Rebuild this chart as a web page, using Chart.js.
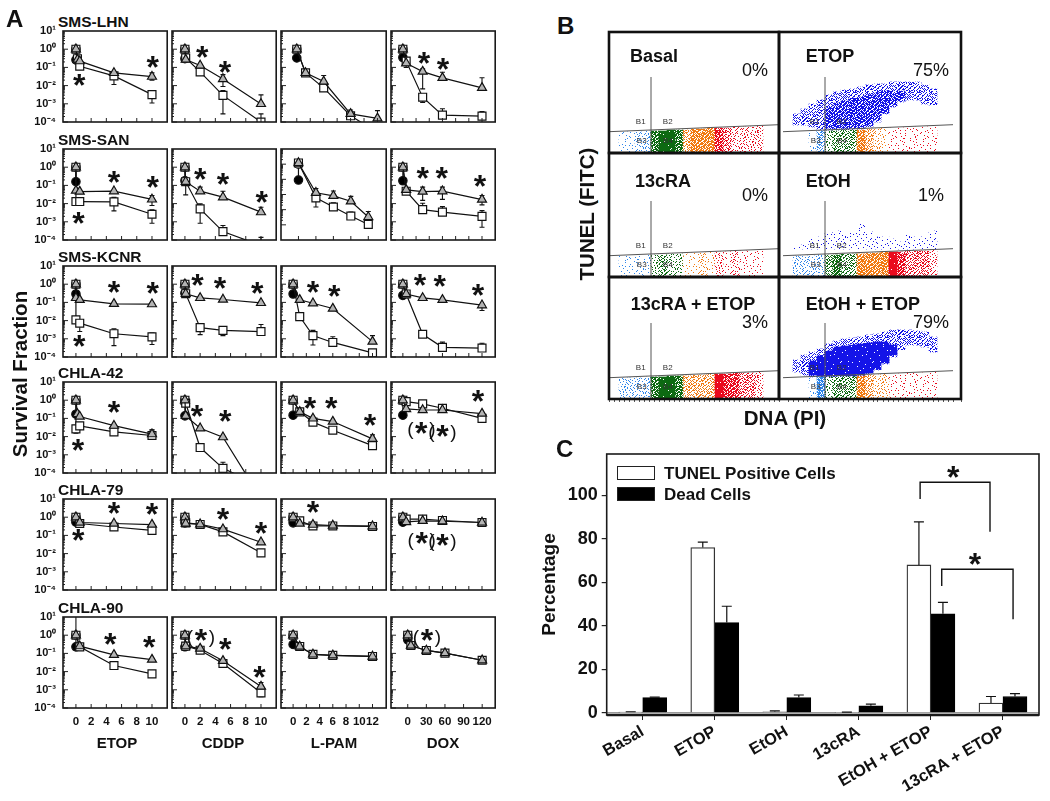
<!DOCTYPE html>
<html lang="en">
<head>
<meta charset="UTF-8">
<title>Survival, TUNEL and cell death</title>
<script src="https://cdn.jsdelivr.net/npm/chart.js"></script>
<style>
    body { margin: 0; background: #fff; }
    #page { position: relative; width: 1050px; height: 801px; overflow: hidden; font-family: "Liberation Sans", Arial, sans-serif; color: #111; }
    #page canvas { position: absolute; }
    .txt { position: absolute; white-space: nowrap; line-height: 1; }
    .swatch { position: absolute; box-sizing: border-box; border: 1.5px solid #222; }
</style>
</head>
<body>
<div id="page"></div>
<script>
// Panel A. Points are [dose, survival fraction, lower error, upper error]
const CELL_LINES = ['SMS-LHN', 'SMS-SAN', 'SMS-KCNR', 'CHLA-42', 'CHLA-79', 'CHLA-90'];
const DRUGS = ['ETOP', 'CDDP', 'L-PAM', 'DOX'];

const BLACK_POINT = [
    [0.26, 0.3, 0.33, 0.35],
    [0.16, 0.18, 0.09, 0.18],
    [0.29, 0.32, 0.29, 0.24],
    [0.17, 0.138, 0.15, 0.15],
    [0.53, 0.49, 0.49, 0.53],
    [0.23, 0.23, 0.31, 0.56]
];

const LHN_ETOP_SQ = [[0,1],[0.2,0.3],[0.5,0.116],[5,0.034,0.0114,0.056],[10,0.0032,0.0011,0.005]];
const LHN_ETOP_TRI = [[0,1],[0.2,0.27],[0.5,0.22],[5,0.05],[10,0.031,0.02,0.05]];
const LHN_CDDP_SQ = [[0,1],[0.1,0.33],[2,0.057],[5,0.0029,0.00028,0.0053],[10,0.0001,null,0.00028]];
const LHN_CDDP_TRI = [[0,1],[0.1,0.27],[2,0.127],[5,0.023,0.009,0.04],[10,0.00099,null,0.0031]];
const LHN_LPAM_SQ = [[0,1],[1.3,0.05],[4,0.0075],[8,0.00022],[12,0.000027]];
const LHN_LPAM_TRI = [[0,1],[1.3,0.05],[4,0.0168,null,0.036],[8,0.00028,null,0.00046],[12,0.00016,null,0.00042]];
const LHN_DOX_SQ = [[0,1],[5,0.22,0.1,null],[30,0.0023,0.0012,null],[60,0.00024,null,0.00053],[120,0.00021,null,0.00037]];
const LHN_DOX_TRI = [[0,1],[5,0.17],[30,0.059,0.0066,0.083],[60,0.0267,null,0.054],[120,0.0075,null,0.027]];

const SAN_ETOP_SQ = [[0,1],[0,0.013],[0.5,0.013],[5,0.0125,0.004,0.022],[10,0.0026,0.00084,0.0045]];
const SAN_ETOP_TRI = [[0,1],[0,0.052],[0.5,0.046],[5,0.048],[10,0.017,0.0078,0.028]];
const SAN_CDDP_SQ = [[0,1],[0.1,0.16],[2,0.0051,0.00084,0.0097],[5,0.00029,null,0.00063],[10,0.00005,null,0.00014]];
const SAN_CDDP_TRI = [[0,1],[0.1,0.16,0.03,null],[2,0.048,null,0.08],[5,0.0225,null,0.048],[10,0.0034,null,0.0063]];
const SAN_LPAM_SQ = [[0,1.2],[2,0.006,0.0015,0.01],[4,0.0015,null,0.0028],[6,0.00038,null,0.0007],[8,0.000106,null,0.0002]];
const SAN_LPAM_TRI = [[0,1.2],[2,0.013,null,0.025],[4,0.0082,null,0.017],[6,0.0036,null,0.0075],[8,0.00033,null,0.00075]];
const SAN_DOX_SQ = [[0,1],[5,0.048],[30,0.0047,null,0.0105],[60,0.0034,null,0.0068],[120,0.002,0.0005,0.0041]];
const SAN_DOX_TRI = [[0,1],[5,0.057],[30,0.046,0.015,0.08],[60,0.048,0.017,0.08],[120,0.0167,0.0085,0.028]];

const KCNR_ETOP_SQ = [[0,1],[0,0.011],[0.5,0.0072,0.0025,null],[5,0.0019,0.00042,0.0035],[10,0.00127,0.00049,0.0021]];
const KCNR_ETOP_TRI = [[0,1],[0,0.177],[0.5,0.138],[5,0.083],[10,0.08]];
const KCNR_CDDP_SQ = [[0,1],[0.1,0.3],[2,0.0041,0.0017,0.0065],[5,0.0029,0.0015,0.0044],[10,0.0025,null,0.0061]];
const KCNR_CDDP_TRI = [[0,1],[0.1,0.3],[2,0.177],[5,0.144],[10,0.094]];
const KCNR_LPAM_SQ = [[0,1],[1,0.0166],[3,0.0015,0.00046,0.0029],[6,0.00063,null,0.0013],[12,0.00017]];
const KCNR_LPAM_TRI = [[0,1],[1,0.138],[3,0.09],[6,0.046],[12,0.0007,null,0.0015]];
const KCNR_DOX_SQ = [[0,1],[5,0.29],[30,0.00178],[60,0.00034,null,0.00066],[120,0.00031,null,0.00057]];
const KCNR_DOX_TRI = [[0,1],[5,0.29],[30,0.177],[60,0.138],[120,0.07,0.036,null]];

const C42_ETOP_SQ = [[0,1],[0,0.0267,0.0154,null],[0.5,0.039],[5,0.018,0.012,0.028],[10,0.0115,null,0.023]];
const C42_ETOP_TRI = [[0,1],[0.2,0.177],[0.5,0.127],[5,0.04],[10,0.0136,null,0.0235]];
const C42_CDDP_SQ = [[0,1],[0.1,0.68],[2,0.0025],[5,0.00018,null,0.00039],[10,0.00002]];
const C42_CDDP_TRI = [[0,1],[0.1,0.138],[2,0.029],[5,0.0093],[10,0.000004]];
const C42_LPAM_SQ = [[0,1],[1,0.23],[3,0.062],[6,0.0225],[12,0.0032,0.002,null]];
const C42_LPAM_TRI = [[0,1],[1,0.23],[3,0.1],[6,0.067],[12,0.0075,null,0.0125]];
const C42_DOX_SQ = [[0,1],[5,0.84],[30,0.63],[60,0.36],[120,0.1]];
const C42_DOX_TRI = [[0,1],[5,0.33],[30,0.29],[60,0.29],[120,0.185]];

const C79_ETOP_SQ = [[0,1],[0.5,0.45],[5,0.29],[10,0.19]];
const C79_ETOP_TRI = [[0,1],[0.5,0.51],[5,0.45],[10,0.395]];
const C79_CDDP_SQ = [[0,1],[0.1,0.49],[2,0.4],[5,0.156],[10,0.011]];
const C79_CDDP_TRI = [[0,1],[0.1,0.45],[2,0.41],[5,0.22],[10,0.042]];
const C79_LPAM_SQ = [[0,1],[1,0.63],[3,0.33],[6,0.33],[12,0.31]];
const C79_LPAM_TRI = [[0,1],[1,0.45],[3,0.39],[6,0.35],[12,0.32]];
const C79_DOX_SQ = [[0,1],[5,0.78],[30,0.78],[60,0.66],[120,0.51]];
const C79_DOX_TRI = [[0,1],[5,0.55],[30,0.63],[60,0.6],[120,0.51]];

const C90_ETOP_SQ = [[0,1,null,20],[0.5,0.23],[5,0.0215],[10,0.0075]];
const C90_ETOP_TRI = [[0,1],[0.5,0.25],[5,0.083],[10,0.046]];
const C90_CDDP_SQ = [[0,1],[0.1,0.25],[2,0.15],[5,0.028],[10,0.00068,0.00042,null]];
const C90_CDDP_TRI = [[0,1],[0.1,0.25],[2,0.185],[5,0.039],[10,0.0015,null,0.0025]];
const C90_LPAM_SQ = [[0,1],[1,0.24],[3,0.088],[6,0.078],[12,0.068]];
const C90_LPAM_TRI = [[0,1],[1,0.24],[3,0.088],[6,0.078],[12,0.068]];
const C90_DOX_SQ = [[0,1],[5,0.27],[30,0.145],[60,0.104],[120,0.042]];
const C90_DOX_TRI = [[0,1],[5,0.27],[30,0.145],[60,0.104],[120,0.042]];

const SQUARES = [
    [LHN_ETOP_SQ, LHN_CDDP_SQ, LHN_LPAM_SQ, LHN_DOX_SQ],
    [SAN_ETOP_SQ, SAN_CDDP_SQ, SAN_LPAM_SQ, SAN_DOX_SQ],
    [KCNR_ETOP_SQ, KCNR_CDDP_SQ, KCNR_LPAM_SQ, KCNR_DOX_SQ],
    [C42_ETOP_SQ, C42_CDDP_SQ, C42_LPAM_SQ, C42_DOX_SQ],
    [C79_ETOP_SQ, C79_CDDP_SQ, C79_LPAM_SQ, C79_DOX_SQ],
    [C90_ETOP_SQ, C90_CDDP_SQ, C90_LPAM_SQ, C90_DOX_SQ]
];
const TRIANGLES = [
    [LHN_ETOP_TRI, LHN_CDDP_TRI, LHN_LPAM_TRI, LHN_DOX_TRI],
    [SAN_ETOP_TRI, SAN_CDDP_TRI, SAN_LPAM_TRI, SAN_DOX_TRI],
    [KCNR_ETOP_TRI, KCNR_CDDP_TRI, KCNR_LPAM_TRI, KCNR_DOX_TRI],
    [C42_ETOP_TRI, C42_CDDP_TRI, C42_LPAM_TRI, C42_DOX_TRI],
    [C79_ETOP_TRI, C79_CDDP_TRI, C79_LPAM_TRI, C79_DOX_TRI],
    [C90_ETOP_TRI, C90_CDDP_TRI, C90_LPAM_TRI, C90_DOX_TRI]
];

// significance marks: [dose, fraction, bracketed]
const STARS = [
    [[[10.1,0.156],[0.43,0.0167]], [[2.26,0.55],[5.26,0.09]], [], [[32,0.26],[61,0.127]]],
    [[[5,0.229],[10.1,0.12],[0.35,0.0013]], [[2,0.35],[5,0.185],[10.1,0.02]], [], [[30,0.38],[59,0.38],[117,0.15]]],
    [[[5,0.55],[10.1,0.51],[0.43,0.00063]], [[1.65,1.46],[4.6,1],[9.5,0.51]], [[3,0.55],[6.2,0.33]], [[26,1.46],[56,1.18],[114,0.41]]],
    [[[5,0.36],[0.26,0.003]], [[1.6,0.21],[5.3,0.11]], [[2.55,0.6],[5.75,0.6],[11.6,0.07]], [[114,1.4],[28,0.025,true],[60,0.0175,true]]],
    [[[5,2.75],[10,2.2],[0.3,0.083]], [[5,1.3],[10,0.22]], [[3,3]], [[28.5,0.059,true],[60,0.048,true]]],
    [[[4.5,0.53],[9.65,0.35]], [[2.1,0.8,true],[5.3,0.28],[9.8,0.0078]], [], [[31,0.8,true]]]
];

const Y_DECADES = [10, 1, 0.1, 0.01, 0.001, 0.0001];
const Y_DECADE_LABELS = ['10¹', '10⁰', '10⁻¹', '10⁻²', '10⁻³', '10⁻⁴'];
const ETOP_TICKS = [0, 2, 4, 6, 8, 10];
const LPAM_TICKS = [0, 2, 4, 6, 8, 10, 12];
const LPAM_SAN_TICKS = [0, 2, 4, 6, 8];
const DOX_TICKS = [0, 20, 40, 60, 80, 100, 120];
const DOX_BOTTOM_TICKS = [0, 30, 60, 90, 120];

// Panel B. Bins are 8 channels wide, channels run along DNA (PI)
const BINS = [4, 12, 20, 28, 36, 44, 52, 60, 68, 76, 84, 92, 100, 108, 116, 124, 132, 140];
const BIN_COLORS = ['#2f86ea','#2f86ea','#2f86ea','#2f86ea','#0d6a12','#0d6a12','#0d6a12','#0d6a12',
    '#f27a12','#f27a12','#f27a12','#f27a12','#ea0a1e','#ea0a1e','#ea0a1e','#ea0a1e','#ea0a1e','#ea0a1e'];
const LOW_TOP = [21, 21, 21, 22, 22, 22, 23, 23, 23, 24, 24, 25, 25, 25, 26, 26, 26, 27];

const BASAL_LOW = [1, 1, 2, 2, 4, 5, 5, 4, 3, 4, 4, 4, 4, 3, 2, 2, 2, 2];
const ETOP_LOW = [0, 0, 1, 3, 2, 3, 3, 3, 4, 3, 2, 1, 1, 1, 1, 1, 1, 1];
const CRA_LOW = [1, 1, 1, 1, 2, 3, 2, 2, 1, 1, 2, 1, 2, 1, 2, 1, 1, 1];
const ETOH_LOW = [2, 2, 2, 2, 3, 4, 3, 3, 4, 4, 4, 4, 5, 4, 3, 3, 3, 2];
const CRA_ETOP_LOW = [2, 2, 2, 2, 4, 5, 5, 4, 3, 3, 3, 3, 5, 4, 4, 3, 3, 2];
const ETOH_ETOP_LOW = [0, 0, 1, 4, 2, 3, 3, 3, 4, 3, 2, 2, 1, 1, 1, 1, 1, 1];

const ETOP_CLOUD_LO = [28, 28, 26, 23, 23, 23, 23, 23, 24, 26, 31, 39, 46, 51, 53, 53, 49, 48];
const ETOP_CLOUD_HI = [39, 44, 49, 53, 58, 61, 63, 64, 66, 68, 69, 69, 71, 71, 71, 71, 68, 64];
const ETOP_CORE_LO = [null, null, null, null, 25, 25, 25, 25, 26, 28, 33, 40, 48, 52, null, null, null, null];
const ETOP_CORE_HI = [null, null, null, null, 45, 50, 52, 55, 56, 58, 60, 62, 62, 62, null, null, null, null];
const ETOH_ETOP_CLOUD_LO = [27, 24, 22, 22, 22, 22, 22, 22, 23, 25, 29, 35, 42, 49, 54, 54, 52, 47];
const ETOH_ETOP_CLOUD_HI = [39, 44, 47, 50, 55, 58, 60, 61, 62, 64, 65, 67, 69, 69, 69, 68, 67, 62];
const ETOH_ETOP_CORE_LO = [null, null, 24, 23, 23, 23, 23, 23, 24, 26, 30, 36, 44, null, null, null, null, null];
const ETOH_ETOP_CORE_HI = [null, null, 38, 43, 48, 52, 53, 54, 55, 56, 57, 57, 54, null, null, null, null, null];
const ETOH_CLOUD_LO = [28, 28, 28, 28, 28, 28, 28, 28, 28, 28, 28, 28, 28, 28, 28, 28, 28, 28];
const ETOH_CLOUD_HI = [30, 32, 38, 40, 44, 46, 42, 44, 53, 45, 40, 40, 38, 35, 42, 40, 40, 46];

const GATE_VERTICAL = [{x: 32, y: 0}, {x: 32, y: 76}];
const GATE_SLOPE = [{x: -10, y: 21.3}, {x: 160, y: 28.3}];

// Panel C
const TREATMENTS = ['Basal', 'ETOP', 'EtOH', '13cRA', 'EtOH + ETOP', '13cRA + ETOP'];
const TUNEL_POSITIVE = [0.3, 76, 0.5, 0.2, 68, 4.5];
const TUNEL_UPPER = [0.5, 78.5, 0.9, 0.3, 87.8, 7.5];
const DEAD_CELLS = [7, 41.5, 7, 3.2, 45.5, 7.5];
const DEAD_UPPER = [7.2, 49, 8.2, 4, 50.8, 8.8];
const PERCENT_TICKS = [0, 20, 40, 60, 80, 100];
const BRACKET_ONE = [{x: 3.85, y: 98.3}, {x: 3.85, y: 106}, {x: 4.82, y: 106}, {x: 4.82, y: 83.3}];
const BRACKET_TWO = [{x: 4.15, y: 58.3}, {x: 4.15, y: 66}, {x: 5.14, y: 66}, {x: 5.14, y: 43}];

Chart.defaults.font.family = '"Liberation Sans", Arial, sans-serif';
Chart.defaults.animation = false;
Chart.defaults.responsive = false;
Chart.defaults.plugins.legend.display = false;
Chart.defaults.plugins.tooltip.enabled = false;

const page = document.getElementById('page');

function addCanvas(left, top, width, height) {
    const c = document.createElement('canvas');
    c.width = width;
    c.height = height;
    c.style.left = left + 'px';
    c.style.top = top + 'px';
    c.style.width = width + 'px';
    c.style.height = height + 'px';
    page.appendChild(c);
    return c;
}

function addText(text, x, y, font, anchor, rotate) {
    const d = document.createElement('div');
    d.className = 'txt';
    d.textContent = text;
    d.style.font = font;
    d.style.lineHeight = '1';
    d.style.left = x + 'px';
    d.style.top = y + 'px';
    const tx = anchor === 'left' ? '0' : anchor === 'right' ? '-100%' : '-50%';
    d.style.transform = 'translate(' + tx + ',-50%)' + (rotate ? ' rotate(' + rotate + 'deg)' : '');
    page.appendChild(d);
}

function drawStar(ctx, px, py, size, bracketed) {
    ctx.save();
    ctx.fillStyle = '#111';
    ctx.textAlign = 'center';
    ctx.textBaseline = 'alphabetic';
    ctx.font = 'bold ' + size + 'px "Liberation Sans", Arial, sans-serif';
    ctx.fillText('*', px, py + size * 0.45);
    if (bracketed) {
        ctx.font = '19px "Liberation Sans", Arial, sans-serif';
        ctx.fillText('(', px - 11, py + 6);
        ctx.fillText(')', px + 11, py + 6);
    }
    ctx.restore();
}

// error bars under the marks, frame, inward ticks and stars on top
function survivalPlugin(series, stars, xTicks, yMin) {
    return {
        id: 'survivalPanel',
        beforeDatasetsDraw(chart) {
            const { ctx, chartArea: a, scales: { x, y } } = chart;
            ctx.save();
            ctx.beginPath();
            ctx.rect(a.left, a.top, a.width, a.height);
            ctx.clip();
            ctx.strokeStyle = '#111';
            ctx.lineWidth = 1.1;
            series.forEach(pts => pts.forEach(p => {
                [p[2], p[3]].forEach(end => {
                    if (end === null || end === undefined) return;
                    const px = x.getPixelForValue(p[0]);
                    const ey = y.getPixelForValue(end);
                    ctx.beginPath();
                    ctx.moveTo(px, y.getPixelForValue(p[1]));
                    ctx.lineTo(px, ey);
                    ctx.moveTo(px - 2.5, ey);
                    ctx.lineTo(px + 2.5, ey);
                    ctx.stroke();
                });
            }));
            ctx.restore();
        },
        afterDatasetsDraw(chart) {
            const { ctx, chartArea: a, scales: { x, y } } = chart;
            ctx.save();
            ctx.strokeStyle = '#222';
            ctx.lineWidth = 1;
            xTicks.forEach(v => {
                const px = x.getPixelForValue(v);
                ctx.beginPath();
                ctx.moveTo(px, a.bottom);
                ctx.lineTo(px, a.bottom - 4);
                ctx.stroke();
            });
            Y_DECADES.forEach(d => {
                if (d > 1 || d < yMin) return;
                const py = y.getPixelForValue(d);
                ctx.beginPath();
                ctx.moveTo(a.left, py);
                ctx.lineTo(a.left + 5, py);
                ctx.stroke();
                [2, 3, 4, 5, 6, 7, 8, 9].forEach(k => {
                    const my = y.getPixelForValue(d * k);
                    ctx.beginPath();
                    ctx.moveTo(a.left, my);
                    ctx.lineTo(a.left + 2, my);
                    ctx.stroke();
                });
            });
            ctx.lineWidth = 1.6;
            ctx.strokeStyle = '#1a1a1a';
            ctx.strokeRect(a.left, a.top, a.width, a.height);
            ctx.restore();
            stars.forEach(s => drawStar(ctx, x.getPixelForValue(s[0]), y.getPixelForValue(s[1]), 32, s[2]));
        }
    };
}

const ROW_TOPS = [31, 149, 266, 382, 499, 617];
const COL_LEFTS = [63, 172, 281, 391];
const COL_WIDTHS = [105, 105, 106, 105];
const PLOT_H = 91;
const PAD_L = 46, PAD_R = 6, PAD_T = 8, PAD_B = 24;

// axis limits per drug
function xConfig(row, col) {
    if (col < 2) return { min: -1.7, max: 12, ticks: ETOP_TICKS };
    if (col === 2) {
        if (row === 0) return { min: -2.35, max: 13.3, ticks: LPAM_TICKS };
        if (row === 1) return { min: -2, max: 10.05, ticks: LPAM_SAN_TICKS };
        return { min: -1.83, max: 14.07, ticks: LPAM_TICKS };
    }
    if (row === 5) return { min: -27, max: 141, ticks: DOX_BOTTOM_TICKS };
    return { min: -18, max: 140, ticks: DOX_TICKS };
}

function toXY(pts) {
    return pts.map(p => ({ x: p[0], y: p[1] }));
}

function drawSurvivalPanel(row, col) {
    const cfg = xConfig(row, col);
    const sq = SQUARES[row][col];
    const tri = TRIANGLES[row][col];
    const ctrl = [[0, 1], [0, BLACK_POINT[row][col]]];
    const yMin = (row === 1 && col === 2) ? 0.00001 : 0.0001;
    const canvas = addCanvas(COL_LEFTS[col] - PAD_L, ROW_TOPS[row] - PAD_T,
        COL_WIDTHS[col] + PAD_L + PAD_R, PLOT_H + PAD_T + PAD_B);
    new Chart(canvas, {
        type: 'scatter',
        data: {
            datasets: [
                { data: toXY(tri), showLine: true, borderColor: '#111', borderWidth: 1.2, pointStyle: 'triangle',
                  pointRadius: 5.2, pointBackgroundColor: '#b4b4b4', pointBorderColor: '#111', pointBorderWidth: 1.2 },
                { data: toXY(sq), showLine: true, borderColor: '#111', borderWidth: 1.2, pointStyle: 'rect',
                  pointRadius: 5.6, pointBackgroundColor: '#fff', pointBorderColor: '#111', pointBorderWidth: 1.2 },
                { data: toXY(ctrl), showLine: true, borderColor: '#111', borderWidth: 1.2, pointStyle: 'circle',
                  pointRadius: 4.2, pointBackgroundColor: ['#fff', '#000'], pointBorderColor: '#111', pointBorderWidth: 1.2 }
            ]
        },
        options: {
            layout: { padding: { top: PAD_T, right: PAD_R } },
            scales: {
                x: {
                    type: 'linear', min: cfg.min, max: cfg.max,
                    grid: { display: false, drawTicks: false }, border: { display: false },
                    afterBuildTicks: s => { s.ticks = cfg.ticks.map(v => ({ value: v })); },
                    afterFit: s => { s.height = PAD_B; s.paddingLeft = 0; s.paddingRight = 0; },
                    ticks: {
                        display: row === 5, autoSkip: false, maxRotation: 0, padding: 7,
                        color: '#111', font: { size: 11.5, weight: 'bold' }
                    }
                },
                y: {
                    type: 'logarithmic', min: yMin, max: 10,
                    grid: { display: false, drawTicks: false }, border: { display: false },
                    afterBuildTicks: s => { s.ticks = Y_DECADES.map(v => ({ value: v })); },
                    afterFit: s => { s.width = PAD_L; s.paddingTop = 0; s.paddingBottom = 0; },
                    ticks: {
                        display: col === 0, autoSkip: false, padding: 7, color: '#111',
                        font: { size: 11, weight: 'bold' },
                        callback: v => Y_DECADE_LABELS[Y_DECADES.indexOf(v)]
                    }
                }
            }
        },
        plugins: [survivalPlugin([sq, tri], STARS[row][col], cfg.ticks, yMin)]
    });
}

CELL_LINES.forEach((name, row) => {
    addText(name, 58, ROW_TOPS[row] - 9, 'bold 15.5px "Liberation Sans"', 'left');
    DRUGS.forEach((d, col) => drawSurvivalPanel(row, col));
});

[117, 223, 334, 443].forEach((x, i) => addText(DRUGS[i], x, 742, 'bold 15px "Liberation Sans"'));
addText('Survival Fraction', 20, 374, 'bold 20.5px "Liberation Sans"', 'center', -90);
addText('A', 6, 19, 'bold 24px "Liberation Sans"', 'left');
addText('B', 557, 26, 'bold 24px "Liberation Sans"', 'left');
addText('C', 556, 449, 'bold 24px "Liberation Sans"', 'left');

// dot texture for the flow plots
const DITHER = [
    [12, 47, 3, 58, 25, 39, 8, 52],
    [33, 20, 61, 15, 44, 1, 55, 29],
    [6, 50, 27, 36, 10, 63, 18, 41],
    [57, 14, 43, 0, 53, 23, 35, 9],
    [24, 38, 7, 60, 17, 46, 4, 59],
    [48, 2, 31, 21, 40, 13, 51, 26],
    [16, 56, 45, 11, 62, 30, 19, 37],
    [42, 28, 5, 54, 22, 34, 49, 32]
];
const LEVEL_SHARE = [0, 0.07, 0.18, 0.36, 0.68, 0.96];
const patternCache = {};

function dotPattern(color, level) {
    if (!level) return 'rgba(0,0,0,0)';
    const key = color + level;
    if (patternCache[key]) return patternCache[key];
    const tile = document.createElement('canvas');
    tile.width = tile.height = 32;
    const g = tile.getContext('2d');
    g.fillStyle = color;
    for (let r = 0; r < 32; r++) {
        for (let c = 0; c < 32; c++) {
            // every 8x8 block keeps the same share of dots, only shifted
            const m = (DITHER[r % 8][c % 8] + 17 * ((r >> 3) + (c >> 3) * 3)) % 64;
            if (m < LEVEL_SHARE[level] * 64) g.fillRect(c, r, 1, 1);
        }
    }
    patternCache[key] = g.createPattern(tile, 'repeat');
    return patternCache[key];
}

function binBars(lo, hi) {
    return BINS.map((x, i) => ({ x: x, y: lo[i] === null ? null : [lo[i], hi[i]] }));
}

function cloudDataset(lo, hi, level) {
    return {
        type: 'bar', data: binBars(lo, hi), backgroundColor: dotPattern('#1414e8', level),
        grouped: false, barThickness: 8
    };
}

const FLOW_CELLS = [
    { title: 'Basal', pct: '0%', low: BASAL_LOW, clouds: [], col: 0, row: 0, tx: 630, px: 768 },
    { title: 'ETOP', pct: '75%', low: ETOP_LOW, col: 1, row: 0, tx: 805.7, px: 949,
      clouds: [[ETOP_CORE_LO, ETOP_CORE_HI, 4], [ETOP_CLOUD_LO, ETOP_CLOUD_HI, 3]] },
    { title: '13cRA', pct: '0%', low: CRA_LOW, clouds: [], col: 0, row: 1, tx: 635, px: 768 },
    { title: 'EtOH', pct: '1%', low: ETOH_LOW, col: 1, row: 1, tx: 805.7, px: 944,
      clouds: [[ETOH_CLOUD_LO, ETOH_CLOUD_HI, 1]] },
    { title: '13cRA + ETOP', pct: '3%', low: CRA_ETOP_LOW, clouds: [], col: 0, row: 2, tx: 630.7, px: 768 },
    { title: 'EtOH + ETOP', pct: '79%', low: ETOH_ETOP_LOW, col: 1, row: 2, tx: 805.7, px: 949,
      clouds: [[ETOH_ETOP_CORE_LO, ETOH_ETOP_CORE_HI, 5], [ETOH_ETOP_CLOUD_LO, ETOH_ETOP_CLOUD_HI, 3]] }
];
const FLOW_X = [609, 779, 961];
const FLOW_Y = [32, 153, 277, 399];
const FLOW_XMIN = [-10, -14];
const GATE_NAMES = [['B1', 21.7, 31.7], ['B2', 48.7, 31.7], ['B3', 22.7, 12.7], ['B4', 49, 12.7]];
const TITLE_Y = [56, 181, 304];
const PCT_Y = [70, 195, 322];

const flowFrame = {
    id: 'flowFrame',
    afterDatasetsDraw(chart) {
        const { ctx, chartArea: a, scales: { x, y } } = chart;
        ctx.save();
        ctx.fillStyle = '#333';
        ctx.font = '8px "Liberation Sans", Arial, sans-serif';
        ctx.textAlign = 'center';
        ctx.textBaseline = 'middle';
        GATE_NAMES.forEach(g => ctx.fillText(g[0], x.getPixelForValue(g[1]), y.getPixelForValue(g[2])));
        ctx.lineWidth = 2.6;
        ctx.strokeStyle = '#111';
        ctx.strokeRect(a.left, a.top, a.width, a.height);
        ctx.restore();
    }
};

FLOW_CELLS.forEach(cell => {
    const left = FLOW_X[cell.col], width = FLOW_X[cell.col + 1] - left;
    const top = FLOW_Y[cell.row], height = FLOW_Y[cell.row + 1] - top;
    const xMin = FLOW_XMIN[cell.col];
    const gateLine = pts => ({
        type: 'line', data: pts, borderColor: '#555', borderWidth: 1, pointRadius: 0
    });
    const canvas = addCanvas(left - 3, top - 3, width + 6, height + 9);
    new Chart(canvas, {
        type: 'bar',
        data: {
            datasets: [
                gateLine(GATE_VERTICAL),
                gateLine(GATE_SLOPE),
                {
                    type: 'bar', data: binBars(BINS.map(() => 0), LOW_TOP),
                    backgroundColor: cell.low.map((lv, i) => dotPattern(BIN_COLORS[i], lv)),
                    grouped: false, barThickness: 8
                }
            ].concat(cell.clouds.map(c => cloudDataset(c[0], c[1], c[2])))
        },
        options: {
            layout: { padding: { left: 3, right: 3, top: 3, bottom: 0 } },
            scales: {
                x: {
                    type: 'linear', offset: false, min: xMin, max: xMin + width,
                    grid: { offset: false, drawOnChartArea: false, tickLength: 3, display: cell.row === 2, color: '#555' },
                    border: { display: false },
                    afterFit: s => { s.height = 6; s.paddingLeft = 0; s.paddingRight = 0; },
                    ticks: { display: false, stepSize: 5, autoSkip: false }
                },
                y: { display: false, min: 0, max: height }
            }
        },
        plugins: [flowFrame]
    });
    addText(cell.title, cell.tx, TITLE_Y[cell.row], 'bold 18px "Liberation Sans"', 'left');
    addText(cell.pct, cell.px, PCT_Y[cell.row], '18px "Liberation Sans"', 'right');
});

addText('TUNEL (FITC)', 586.7, 214, 'bold 20.5px "Liberation Sans"', 'center', -90);
addText('DNA (PI)', 785, 418, 'bold 20.5px "Liberation Sans"');

// Panel C
const barStars = [[4.31, 110], [4.61, 70]];

const barExtras = {
    id: 'barExtras',
    afterDatasetsDraw(chart) {
        const { ctx, chartArea: a, scales: { y, xb } } = chart;
        ctx.save();
        ctx.strokeStyle = '#111';
        ctx.lineWidth = 1.2;
        [[2, TUNEL_POSITIVE, TUNEL_UPPER], [3, DEAD_CELLS, DEAD_UPPER]].forEach(set => {
            chart.getDatasetMeta(set[0]).data.forEach((bar, i) => {
                const top = y.getPixelForValue(set[2][i]);
                ctx.beginPath();
                ctx.moveTo(bar.x, y.getPixelForValue(set[1][i]));
                ctx.lineTo(bar.x, top);
                ctx.moveTo(bar.x - 5, top);
                ctx.lineTo(bar.x + 5, top);
                ctx.stroke();
            });
        });
        ctx.lineWidth = 1.6;
        ctx.strokeStyle = '#1a1a1a';
        ctx.strokeRect(a.left, a.top, a.width, a.height);
        ctx.lineWidth = 2.4;
        ctx.beginPath();
        ctx.moveTo(a.left, a.bottom);
        ctx.lineTo(a.right, a.bottom);
        ctx.stroke();
        ctx.restore();
        barStars.forEach(s => drawStar(ctx, xb.getPixelForValue(s[0]), y.getPixelForValue(s[1]), 32));
    }
};

new Chart(addCanvas(530, 440, 520, 361), {
    type: 'bar',
    data: {
        labels: TREATMENTS,
        datasets: [
            { type: 'line', xAxisID: 'xb', data: BRACKET_ONE, borderColor: '#111', borderWidth: 1.4, pointRadius: 0 },
            { type: 'line', xAxisID: 'xb', data: BRACKET_TWO, borderColor: '#111', borderWidth: 1.4, pointRadius: 0 },
            { label: 'TUNEL Positive Cells', xAxisID: 'x', data: TUNEL_POSITIVE, backgroundColor: '#fff', borderColor: '#333', borderWidth: 1.3,
              barThickness: 24 },
            { label: 'Dead Cells', xAxisID: 'x', data: DEAD_CELLS, backgroundColor: '#000', borderColor: '#000', borderWidth: 1,
              barThickness: 24 }
        ]
    },
    options: {
        layout: { padding: { top: 14, right: 11 } },
        scales: {
            x: {
                grid: { display: true, drawOnChartArea: false, offset: false, tickLength: 5, color: '#222' },
                border: { display: false },
                afterFit: s => { s.height = 86; s.paddingLeft = 0; s.paddingRight = 0; },
                ticks: {
                    autoSkip: false, minRotation: 30, maxRotation: 30, padding: 2, color: '#111',
                    font: { size: 16.5, weight: 'bold' }
                }
            },
            xb: { type: 'linear', display: false, offset: false, min: -0.5, max: 5.5 },
            y: {
                min: -1, max: 119,
                grid: {
                    color: c => c.tick.value === 0 ? '#999' : 'rgba(0,0,0,0)',
                    tickColor: '#222', tickLength: 5, lineWidth: 1.2
                },
                border: { display: false },
                afterBuildTicks: s => { s.ticks = PERCENT_TICKS.map(v => ({ value: v })); },
                afterFit: s => { s.width = 76.7; s.paddingTop = 0; s.paddingBottom = 0; },
                title: {
                    display: true, text: 'Percentage', color: '#111', padding: { top: 8, bottom: 0 },
                    font: { size: 19, weight: 'bold' }
                },
                ticks: { autoSkip: false, padding: 4, color: '#111', font: { size: 18, weight: 'bold' } }
            }
        }
    },
    plugins: [barExtras]
});

[[617, 466, '#fff', 'TUNEL Positive Cells', 473], [617, 487, '#000', 'Dead Cells', 494]].forEach(l => {
    const s = document.createElement('div');
    s.className = 'swatch';
    s.style.cssText = 'left:' + l[0] + 'px;top:' + l[1] + 'px;width:38px;height:14px;background:' + l[2];
    page.appendChild(s);
    addText(l[3], 664, l[4], 'bold 17px "Liberation Sans"', 'left');
});
</script>
</body>
</html>
